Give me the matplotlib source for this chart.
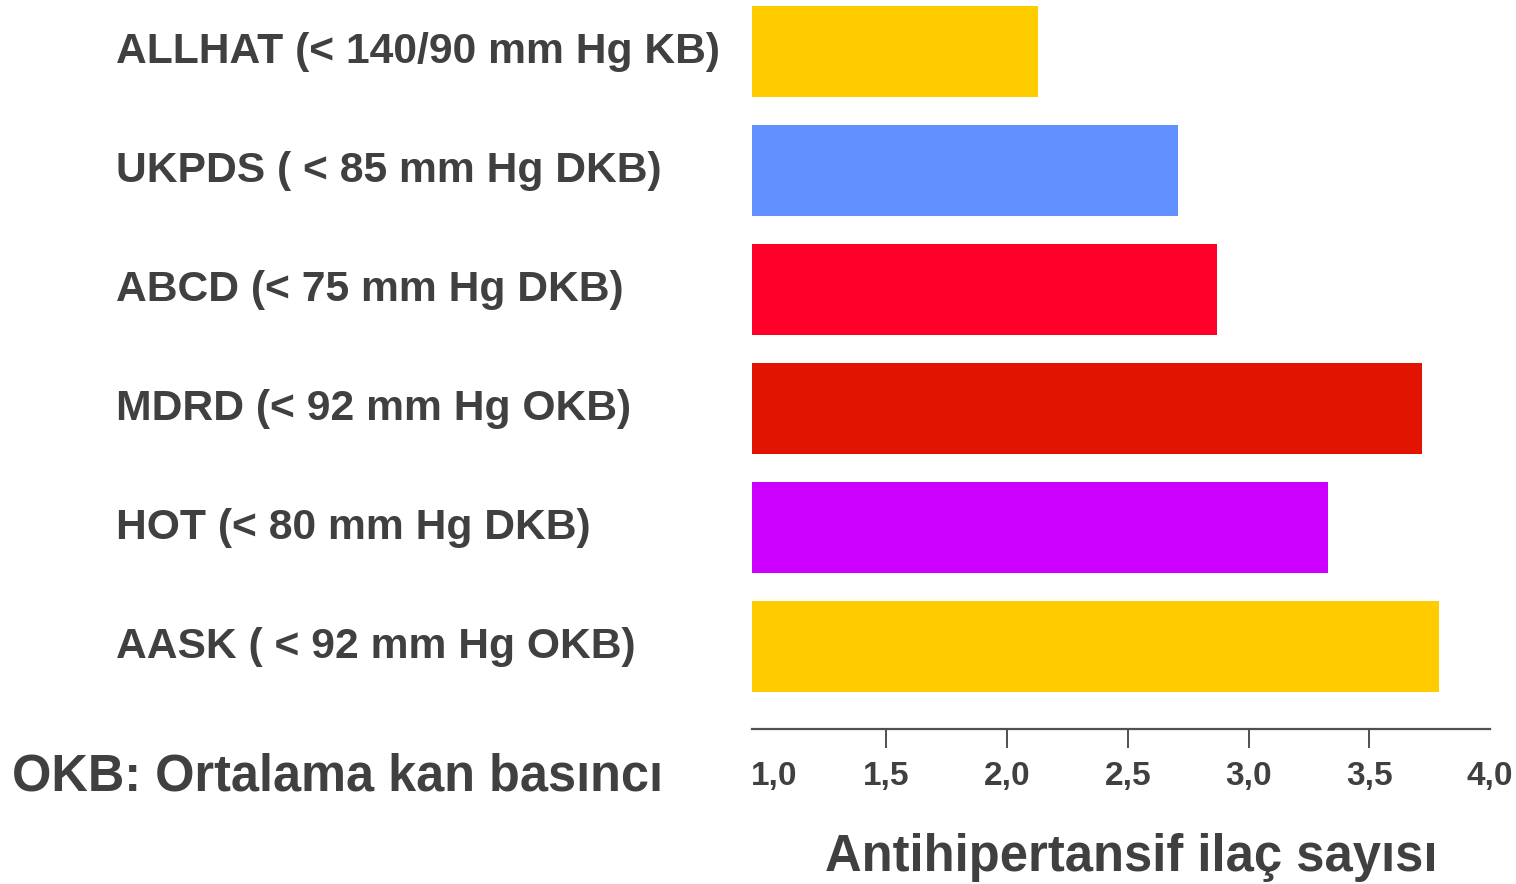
import matplotlib
matplotlib.use("Agg")
import matplotlib.pyplot as plt
from matplotlib.transforms import blended_transform_factory, ScaledTranslation

categories = [
    "ALLHAT (< 140/90 mm Hg KB)",
    "UKPDS ( < 85 mm Hg DKB)",
    "ABCD (< 75 mm Hg DKB)",
    "MDRD (< 92 mm Hg OKB)",
    "HOT (< 80 mm Hg DKB)",
    "AASK ( < 92 mm Hg OKB)",
]
values = [2.13, 2.71, 2.87, 3.72, 3.33, 3.79]
colors = ["#FFCC00", "#6290FF", "#FF0029", "#E01400", "#CC00FF", "#FFCC00"]
xticks = [1.0, 1.5, 2.0, 2.5, 3.0, 3.5, 4.0]
xticklabels = ["1,0", "1,5", "2,0", "2,5", "3,0", "3,5", "4,0"]
xlabel = "Antihipertansif ilaç sayısı"
note = "OKB: Ortalama kan basıncı"

TXT = "#404040"
FONT = "Liberation Sans"

W, H = 1516, 884
fig = plt.figure(figsize=(W / 100, H / 100), dpi=100)
ax = fig.add_axes([752 / W, (H - 729) / H, (1490 - 752) / W, 729 / H])

xmin, xmax = 0.944, 3.98
ypos = list(range(len(categories)))
ax.barh(ypos, [v - xmin for v in values], left=xmin, height=0.765,
        color=colors, edgecolor="none")
ax.set_xlim(xmin, xmax)
ax.set_ylim(5.693, -0.433)

for s in ["top", "right", "left"]:
    ax.spines[s].set_visible(False)
ax.spines["bottom"].set_color("#505050")
ax.spines["bottom"].set_linewidth(1.6)
ax.set_yticks([])
ax.set_xticks(xticks)
ax.set_xticklabels(xticklabels, fontsize=24, fontweight="bold", color=TXT, family=FONT)
ax.tick_params(axis="x", length=14, width=1.4, color="#505050", pad=9)
ticks = ax.xaxis.get_major_ticks()
ticks[0].tick1line.set_visible(False)
ticks[-1].tick1line.set_visible(False)
lab0 = ticks[0].label1
lab0.set_transform(lab0.get_transform() + ScaledTranslation(0.09, 0, fig.dpi_scale_trans))

tr = blended_transform_factory(fig.transFigure, ax.transData)
for i, c in enumerate(categories):
    ax.text(116 / W, i, c, transform=tr, ha="left", va="center",
            fontsize=30.7, fontweight="bold", color=TXT, family=FONT)

fig.text(1131 / W, 1 - 857 / H, xlabel, ha="center", va="center",
         fontsize=36.5, fontweight="bold", color=TXT, family=FONT)
fig.text(12 / W, 1 - 777 / H, note, ha="left", va="center",
         fontsize=36.4, fontweight="bold", color=TXT, family=FONT)

fig.savefig("out.png", dpi=100, facecolor="white")
